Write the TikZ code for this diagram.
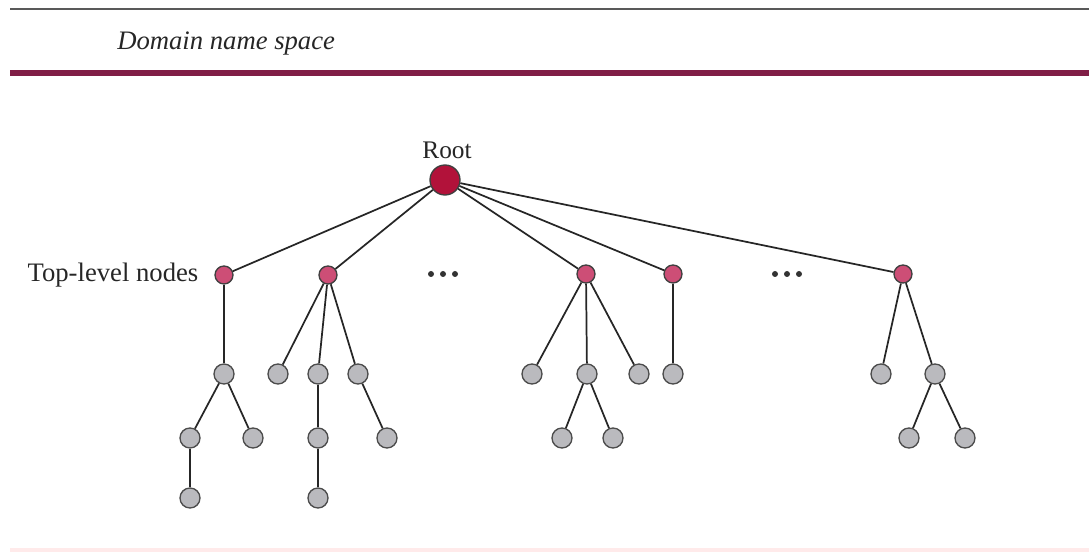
\documentclass[tikz,border=0pt]{standalone}
\usepackage{fontspec}
\setmainfont{Liberation Serif}
\definecolor{barmaroon}{RGB}{128,30,70}
\definecolor{rootred}{RGB}{178,18,58}
\definecolor{toppink}{RGB}{205,78,118}
\definecolor{leafgray}{RGB}{186,186,190}
\tikzset{
  rootdot/.style={circle,draw=black!75,line width=1pt,fill=rootred,minimum size=22.5pt,inner sep=0pt},
  topdot/.style={circle,draw=black!75,line width=1pt,fill=toppink,minimum size=13.5pt,inner sep=0pt},
  leafdot/.style={circle,draw=black!70,line width=1pt,fill=leafgray,minimum size=15pt,inner sep=0pt},
  link/.style={draw=black!85,line width=1.3pt}
}
\begin{document}
\begin{tikzpicture}[x=0.75pt,y=-0.75pt,font=\fontsize{19}{23}\selectfont]
\useasboundingbox (0,0) rectangle (1089,559);
% header
\draw[black!65,line width=1.8pt] (10,9)--(1089,9);
\draw[barmaroon,line width=5pt] (10,73)--(1089,73);
\node[anchor=base west,inner sep=0pt,font=\fontsize{20}{24}\selectfont\itshape,text=black!85] (title) at (117,50){Domain name space};
\draw[red!10!pink!25,line width=2.5pt] (10,550)--(1089,550);
% root and top level
\node[rootdot] (root) at (445,180){}; \node[text=black!85] (rootlbl) at (447,150){Root};
\node[topdot] (t1) at (224,275){}; \node[topdot] (t2) at (328,275){}; \node[topdot] (t3) at (586,274){};
\node[topdot] (t4) at (673,274){}; \node[topdot] (t5) at (903,274){};
\node[anchor=east,text=black!85,font=\fontsize{20}{24}\selectfont] (toplbl) at (203,275){Top-level nodes};
\foreach \cx in {431,443,455,775,787,799} \fill[black!80] (\cx,274) circle (3);
\foreach \t in {t1,t2,t3,t4,t5} \draw[link] (root)--(\t);
% second level
\node[leafdot] (a) at (224,374){};
\node[leafdot] (b1) at (278,374){}; \node[leafdot] (b2) at (318,374){}; \node[leafdot] (b3) at (358,374){};
\node[leafdot] (c1) at (532,374){}; \node[leafdot] (c2) at (587,374){}; \node[leafdot] (c3) at (639,374){};
\node[leafdot] (d) at (673,374){};
\node[leafdot] (e1) at (881,374){}; \node[leafdot] (e2) at (935,374){};
% third and fourth level
\node[leafdot] (a1) at (190,438){}; \node[leafdot] (a2) at (253,438){}; \node[leafdot] (a11) at (190,498){};
\node[leafdot] (b21) at (318,438){}; \node[leafdot] (b31) at (387,438){}; \node[leafdot] (b211) at (318,498){};
\node[leafdot] (c21) at (562,438){}; \node[leafdot] (c22) at (613,438){};
\node[leafdot] (e21) at (909,438){}; \node[leafdot] (e22) at (965,438){};
\draw[link] (t1)--(a); \draw[link] (a)--(a1); \draw[link] (a)--(a2); \draw[link] (a1)--(a11);
\draw[link] (t2)--(b1); \draw[link] (t2)--(b2); \draw[link] (t2)--(b3);
\draw[link] (b2)--(b21); \draw[link] (b21)--(b211); \draw[link] (b3)--(b31);
\draw[link] (t3)--(c1); \draw[link] (t3)--(c2); \draw[link] (t3)--(c3);
\draw[link] (c2)--(c21); \draw[link] (c2)--(c22);
\draw[link] (t4)--(d);
\draw[link] (t5)--(e1); \draw[link] (t5)--(e2); \draw[link] (e2)--(e21); \draw[link] (e2)--(e22);
\end{tikzpicture}
\end{document}
